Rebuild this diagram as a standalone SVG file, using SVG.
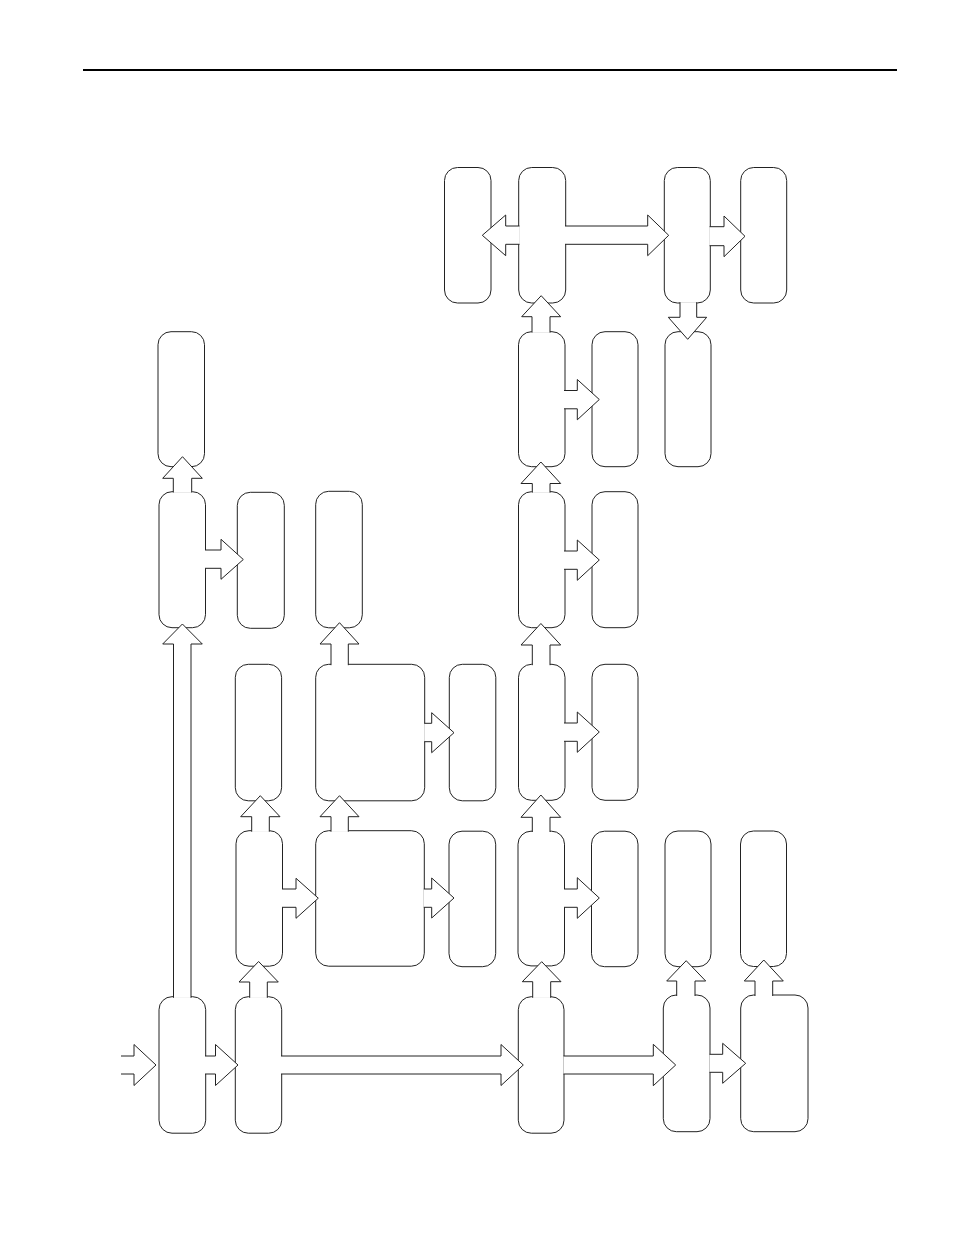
<svg xmlns="http://www.w3.org/2000/svg" width="954" height="1235" viewBox="0 0 954 1235">
<style>
.b{fill:#fff;stroke:#222;stroke-width:1}
.a{fill:#fff;stroke:#222;stroke-width:1;stroke-linejoin:miter}
</style>
<rect width="954" height="1235" fill="#fff"/>
<line x1="83" y1="70" x2="897" y2="70" stroke="#000" stroke-width="2"/>
<g id="nodes">
<g id="A1"><rect class="b" x="444.5" y="167.5" width="46.5" height="135.5" rx="13"/></g>
<g id="A2"><rect class="b" x="518.7" y="167.5" width="47" height="135.5" rx="13"/></g>
<g id="A3"><rect class="b" x="664.3" y="167.5" width="46" height="135.5" rx="13"/></g>
<g id="A4"><rect class="b" x="740.7" y="167.5" width="46" height="135.5" rx="13"/></g>
<g id="L1"><rect class="b" x="158" y="331.7" width="46.5" height="135" rx="13"/></g>
<g id="B2"><rect class="b" x="518.5" y="331.7" width="46.5" height="135" rx="13"/></g>
<g id="B2b"><rect class="b" x="592" y="331.7" width="46" height="135" rx="13"/></g>
<g id="B3"><rect class="b" x="665" y="331.7" width="46" height="135" rx="13"/></g>
<g id="L2"><rect class="b" x="159" y="491.7" width="46.5" height="136" rx="13"/></g>
<g id="L3"><rect class="b" x="237.3" y="492.3" width="47" height="136" rx="13"/></g>
<g id="L4"><rect class="b" x="315.7" y="491.3" width="46.6" height="136.5" rx="13"/></g>
<g id="R3"><rect class="b" x="518.5" y="491.7" width="46.5" height="136" rx="13"/></g>
<g id="R3b"><rect class="b" x="592" y="491.7" width="46" height="136" rx="13"/></g>
<g id="M1"><rect class="b" x="235.3" y="664.3" width="46.3" height="136.5" rx="13"/></g>
<g id="Big1"><rect class="b" x="315.7" y="664.3" width="109" height="136.5" rx="13"/></g>
<g id="M3"><rect class="b" x="449.3" y="664.3" width="46.5" height="136.5" rx="13"/></g>
<g id="R4"><rect class="b" x="518.5" y="664.3" width="46.5" height="136" rx="13"/></g>
<g id="R4b"><rect class="b" x="592" y="664.3" width="46" height="136" rx="13"/></g>
<g id="N1"><rect class="b" x="236" y="830.7" width="46.5" height="135.5" rx="13"/></g>
<g id="Big2"><rect class="b" x="315.7" y="830.7" width="108.6" height="135.5" rx="13"/></g>
<g id="N3"><rect class="b" x="449" y="831.2" width="46.7" height="135.5" rx="13"/></g>
<g id="R5"><rect class="b" x="518" y="831.2" width="46.5" height="134.7" rx="13"/></g>
<g id="R5b"><rect class="b" x="591.5" y="831.2" width="46.5" height="135.5" rx="13"/></g>
<g id="N6"><rect class="b" x="665" y="831" width="46" height="135.7" rx="13"/></g>
<g id="N7"><rect class="b" x="740.5" y="831" width="46" height="135.5" rx="13"/></g>
<g id="C1"><rect class="b" x="159" y="996.7" width="46.7" height="136.5" rx="13"/></g>
<g id="C2"><rect class="b" x="235.3" y="996.7" width="46.4" height="136.5" rx="13"/></g>
<g id="C3"><rect class="b" x="518.3" y="996.7" width="45.7" height="136.5" rx="13"/></g>
<g id="C4"><rect class="b" x="663.3" y="995" width="46.7" height="136.7" rx="13"/></g>
<g id="C5"><rect class="b" x="740.7" y="995" width="67.3" height="136.7" rx="13"/></g>
</g>
<g id="connectors">
<path class="a" d="M121,1056 L134,1056 L134,1044.5 L156,1065 L134,1085.5 L134,1074 L121,1074"/>
<path class="a" d="M205,1056 L215.5,1056 L215.5,1044.5 L238,1065 L215.5,1085.5 L215.5,1074 L205,1074"/>
<path class="a" d="M173.5,997.8 L173.5,644 L162.7,644 L182.4,624 L202.3,644 L191,644 L191,997.8"/>
<path class="a" d="M249.7,997.8 L249.7,982 L239,982 L258.6,961.5 L278.3,982 L267.3,982 L267.3,997.8"/>
<path class="a" d="M281,1056 L501,1056 L501,1044.5 L523.3,1065 L501,1085.5 L501,1074 L281,1074"/>
<path class="a" d="M532.7,997.8 L532.7,981.7 L522.3,981.7 L541.7,961.7 L561,981.7 L550.7,981.7 L550.7,997.8"/>
<path class="a" d="M563.5,1056 L653.3,1056 L653.3,1044.3 L675.7,1065 L653.3,1085.7 L653.3,1074 L563.5,1074"/>
<path class="a" d="M709.5,1054.3 L722.7,1054.3 L722.7,1043.3 L745.7,1063.3 L722.7,1083.3 L722.7,1072.3 L709.5,1072.3"/>
<path class="a" d="M676.7,996 L676.7,981 L666.7,981 L686.2,960.7 L705.7,981 L695,981 L695,996"/>
<path class="a" d="M755,996 L755,981 L744.3,981 L763.8,960 L783.3,981 L772.7,981 L772.7,996"/>
<path class="a" d="M251.7,831.7 L251.7,816.7 L240.7,816.7 L260.3,795.7 L280,816.7 L269.3,816.7 L269.3,831.7"/>
<path class="a" d="M282,889 L296,889 L296,878.3 L318.3,898.2 L296,918.3 L296,907.3 L282,907.3"/>
<path class="a" d="M331,831.7 L331,816.7 L320,816.7 L339.5,795.7 L359,816.7 L348.3,816.7 L348.3,831.7"/>
<path class="a" d="M423.8,889 L431.7,889 L431.7,878 L454,898 L431.7,918 L431.7,907.3 L423.8,907.3"/>
<path class="a" d="M331,665.2 L331,644 L320,644 L339.5,622.7 L359,644 L348.3,644 L348.3,665.2"/>
<path class="a" d="M424.2,723.3 L431.7,723.3 L431.7,712.7 L454,732.7 L431.7,752.7 L431.7,741.7 L424.2,741.7"/>
<path class="a" d="M532.3,832 L532.3,817.3 L521,817.3 L540.9,795 L560.7,817.3 L550,817.3 L550,832"/>
<path class="a" d="M564,889 L577.3,889 L577.3,877.7 L599.3,898 L577.3,918.3 L577.3,907.3 L564,907.3"/>
<path class="a" d="M532.3,665.2 L532.3,645 L521,645 L540.9,623.5 L560.7,645 L550,645 L550,665.2"/>
<path class="a" d="M564,723 L577.3,723 L577.3,712 L599.3,732 L577.3,752.3 L577.3,741.3 L564,741.3"/>
<path class="a" d="M532.3,492.6 L532.3,483.5 L521,483.5 L540.9,462 L560.7,483.5 L550,483.5 L550,492.6"/>
<path class="a" d="M564,551 L577.3,551 L577.3,540 L599.3,560 L577.3,580.3 L577.3,569.3 L564,569.3"/>
<path class="a" d="M532,332.6 L532,316.7 L521.7,316.7 L541.2,295.7 L560.7,316.7 L550,316.7 L550,332.6"/>
<path class="a" d="M564,390.5 L577.3,390.5 L577.3,379.5 L599.3,399.5 L577.3,419.8 L577.3,408.8 L564,408.8"/>
<path class="a" d="M519.5,226 L505.7,226 L505.7,215 L482.3,235.3 L505.7,255.7 L505.7,244.3 L519.5,244.3"/>
<path class="a" d="M565,226 L647.7,226 L647.7,215 L668.7,235.3 L647.7,255.7 L647.7,244.3 L565,244.3"/>
<path class="a" d="M709.6,226.7 L724,226.7 L724,216 L745,236.3 L724,256.7 L724,245.7 L709.6,245.7"/>
<path class="a" d="M680,302.2 L680,317.3 L668.3,317.3 L687.7,339.3 L706.7,317.3 L696.7,317.3 L696.7,302.2"/>
<path class="a" d="M173.3,492.5 L173.3,478.3 L162.7,478.3 L182.5,456.7 L202.3,478.3 L191.7,478.3 L191.7,492.5"/>
<path class="a" d="M205,550 L221,550 L221,539.3 L243.3,559.5 L221,579.3 L221,568.3 L205,568.3"/>
</g>
</svg>
